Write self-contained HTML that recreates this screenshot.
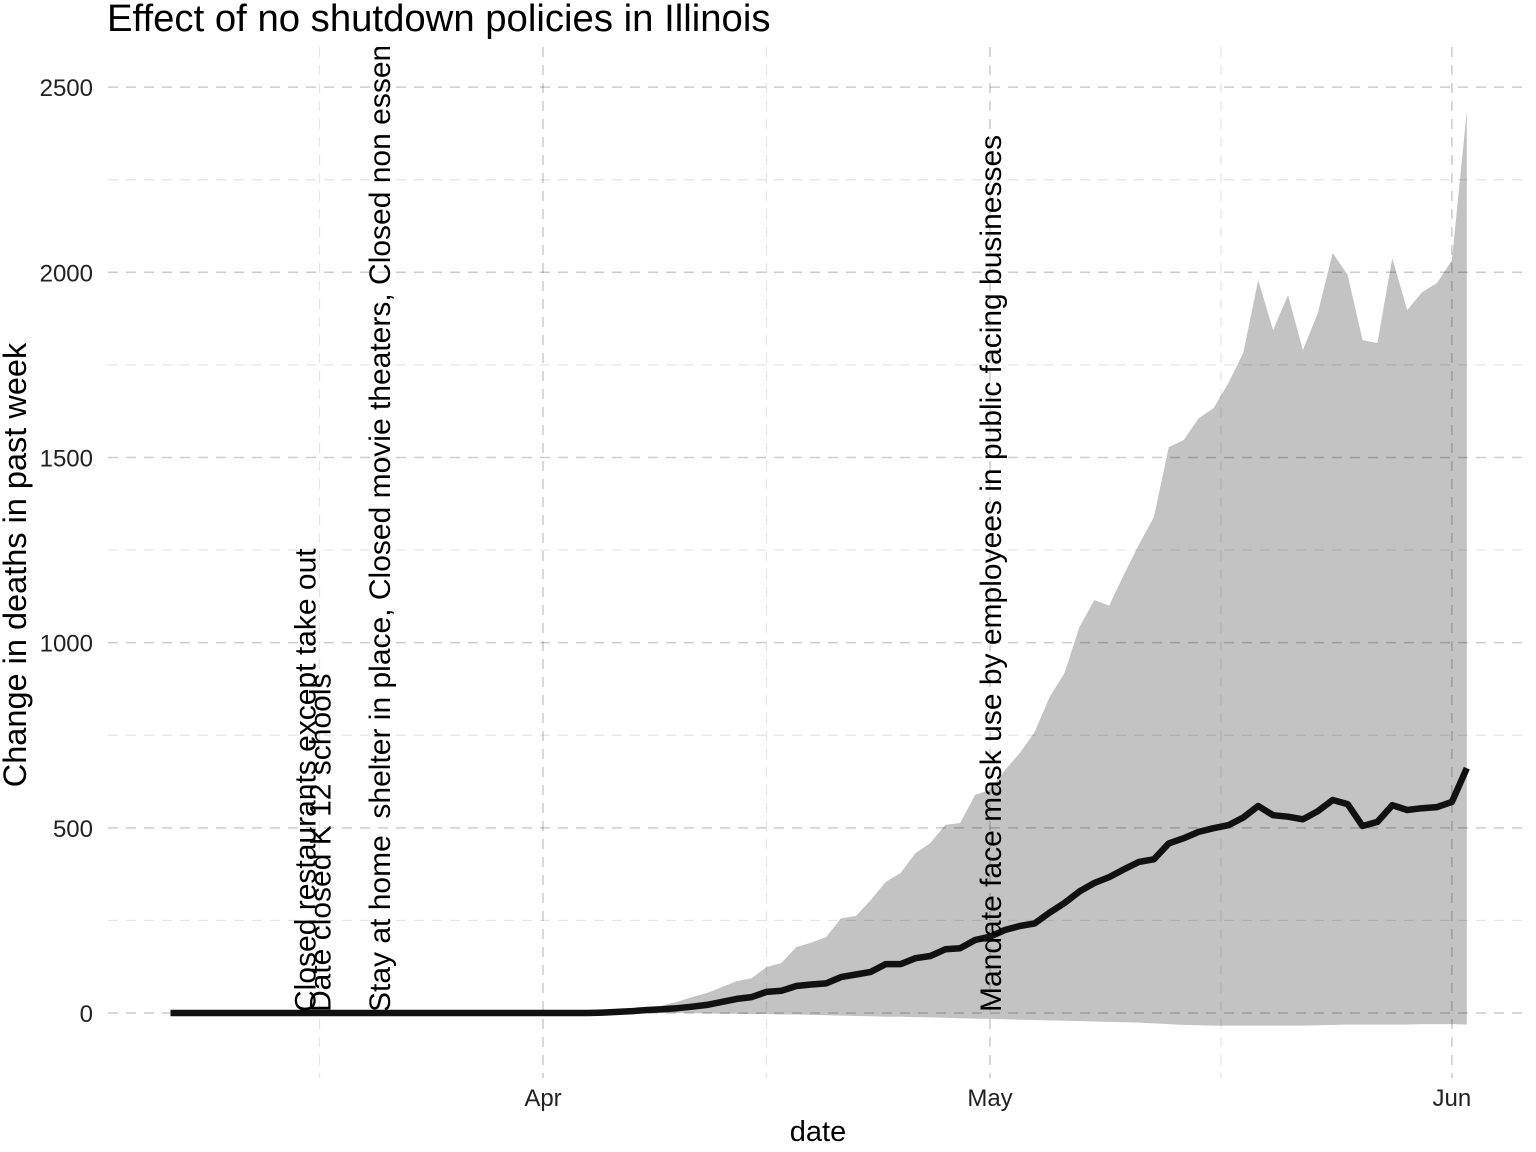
<!DOCTYPE html>
<html><head><meta charset="utf-8"><style>
body{margin:0;background:#fff}
svg{display:block;font-family:"Liberation Sans",sans-serif}
</style></head><body>
<svg id="chart" width="1536" height="1152" viewBox="0 0 1536 1152">
<defs><clipPath id="clip"><rect x="108" y="47" width="1428" height="1040"/></clipPath></defs>
<text x="107" y="31" font-size="38.3" fill="#000">Effect of no shutdown policies in Illinois</text>
<g id="ribbon-g"></g>
<g id="grid-g"></g>
<g id="line-g"></g>
<g id="annot-g" clip-path="url(#clip)"></g>
<g id="axis-g"></g>
<text x="818" y="1141" font-size="29" text-anchor="middle">date</text>
<text transform="translate(26,565) rotate(-90)" font-size="32.5" text-anchor="middle">Change in deaths in past week</text>
</svg>
<script>
const meanVals=[0,0,0,0,0,0,0,0,0,0,0,0,0,0,0,0,0,0,0,0,0,0,0,0,0,0,0,0,0,
1,3,5,8,10,13,17,22,30,38,43,
57,60,73,77,80,97,104,111,132,132,
148,154,172,175,197,206,224,235,242,271,
297,328,351,367,388,408,415,458,472,489,
499,507,528,559,534,530,523,545,575,564,
505,516,561,548,553,556,570,661];
const upperVals=[0,0,0,0,0,0,0,0,0,0,0,0,0,0,0,0,0,0,0,0,0,0,0,0,0,0,0,0,0,
1,4,8,13,20,30,43,54,70,86,94,
124,135,178,190,205,256,262,305,354,378,
432,459,508,513,589,602,656,702,759,853,
918,1042,1115,1100,1185,1265,1339,1528,1547,1606,
1633,1701,1782,1979,1844,1938,1790,1890,2052,1993,
1817,1809,2038,1898,1946,1971,2033,2435];
const lowerVals=[0,0,0,0,0,0,0,0,0,0,0,0,0,0,0,0,0,0,0,0,0,0,0,0,0,0,0,0,0,0,0,0,0,0,0,0,
-1,-2,-2,-3,
-3,-4,-4,-5,-6,-7,-8,-9,-10,-10,
-11,-12,-13,-14,-15,-16,-17,-18,-19,-20,
-21,-22,-23,-24,-25,-26,-28,-30,-32,-33,
-34,-34,-34,-34,-34,-34,-34,-33,-32,-31,
-31,-31,-31,-31,-30,-30,-30,-31];
const yTicks=[0,500,1000,1500,2000,2500];
const yMinor=[250,750,1250,1750,2250];
const xTickLabels=["Apr","May","Jun"];
const xTickDays=[25,55,86];
const xMinorDays=[10,40,70.5];
const annotDays=[9,10,14,55];
const annotTexts=["Closed restaurants except take out","Date closed K 12 schools","Stay at home  shelter in place, Closed movie theaters, Closed non essential businesses","Mandate face mask use by employees in public facing businesses"];

const NS="http://www.w3.org/2000/svg";
function X(d){return 543+(d-25)*14.9;}
function Y(v){return 1013-v*0.37035;}
function mk(tag,attrs,parent){const e=document.createElementNS(NS,tag);for(const k in attrs)e.setAttribute(k,attrs[k]);parent.appendChild(e);return e;}

const rg=document.getElementById('ribbon-g');
let p="";
upperVals.forEach((v,i)=>{p+=(i?"L":"M")+X(i).toFixed(1)+","+Y(v).toFixed(1);});
for(let i=lowerVals.length-1;i>=0;i--)p+="L"+X(i).toFixed(1)+","+Y(lowerVals[i]).toFixed(1);
const rib=mk('path',{d:p+"Z",fill:"#c3c3c3"},rg);



const gg=document.getElementById('grid-g');
yMinor.forEach(v=>{const l=mk('line',{x1:108,x2:1530,y1:Y(v),y2:Y(v),stroke:"rgba(0,0,0,0.1)","stroke-width":1.2,"stroke-dasharray":"10,8"},gg);

});
yTicks.forEach(v=>{const l=mk('line',{x1:108,x2:1530,y1:Y(v),y2:Y(v),stroke:"rgba(0,0,0,0.2)","stroke-width":1.5,"stroke-dasharray":"10,8"},gg);

});
xMinorDays.forEach(d=>{const l=mk('line',{x1:X(d),x2:X(d),y1:47,y2:1078,stroke:"rgba(0,0,0,0.1)","stroke-width":1.2,"stroke-dasharray":"10,8"},gg);

});
xTickDays.forEach(d=>{const l=mk('line',{x1:X(d),x2:X(d),y1:47,y2:1078,stroke:"rgba(0,0,0,0.2)","stroke-width":1.5,"stroke-dasharray":"10,8"},gg);

});

const lg=document.getElementById('line-g');
let lp="";
meanVals.forEach((v,i)=>{lp+=(i?"L":"M")+X(i).toFixed(1)+","+Y(v).toFixed(1);});
const ln=mk('path',{d:lp,fill:"none",stroke:"#111","stroke-width":6.5,"stroke-linejoin":"round"},lg);



const ag=document.getElementById('annot-g');
annotDays.forEach((d,i)=>{const t=mk('text',{transform:"translate("+(X(d)+11)+",1012) rotate(-90)","font-size":30,style:"white-space:pre"},ag);
t.textContent=annotTexts[i];

});

const axg=document.getElementById('axis-g');
yTicks.forEach(v=>{const t=mk('text',{x:93,y:Y(v)+9,"font-size":24,"text-anchor":"end",fill:"#222"},axg);
t.textContent=v;

});
xTickDays.forEach((d,i)=>{const t=mk('text',{x:X(d),y:1106,"font-size":24,"text-anchor":"middle",fill:"#222"},axg);
t.textContent=xTickLabels[i];

});
</script>
</body></html>
